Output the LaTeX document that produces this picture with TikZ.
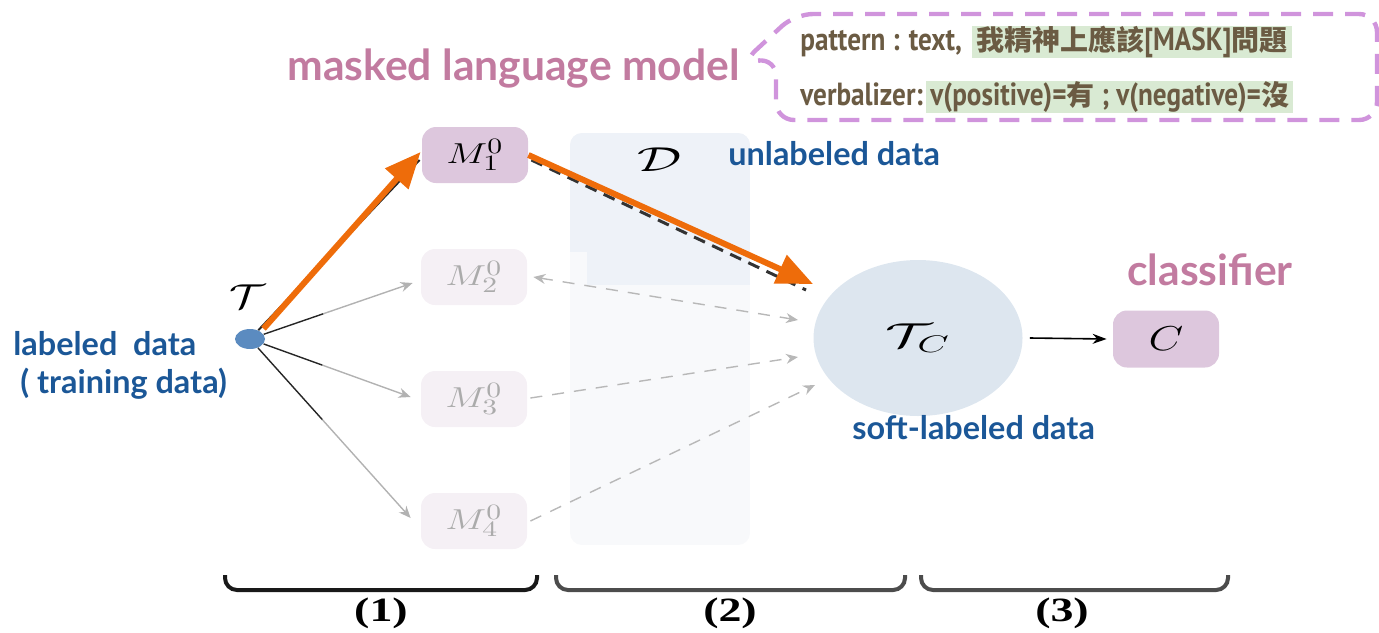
\documentclass[tikz,border=0pt]{standalone}
\usepackage[no-math]{fontspec}
\usepackage{graphicx}
\setmainfont{Lato}
\newfontfamily\lato{Lato}
\newfontfamily\condf[FakeStretch=0.85]{PT Sans}
\newfontfamily\cjk{Noto Sans CJK TC}
\newfontfamily\tnr{Liberation Serif}
\usetikzlibrary{arrows.meta,calc,shapes.geometric}
\definecolor{pinkt}{HTML}{C27BA0}
\definecolor{bluet}{HTML}{1B5797}
\definecolor{olive}{HTML}{6B5B43}
\definecolor{hlg}{HTML}{D9EAD3}
\definecolor{dashp}{HTML}{D094DC}
\definecolor{mfill}{HTML}{DDC7DD}
\definecolor{mfade}{HTML}{F5F0F5}
\definecolor{orng}{HTML}{EE6C0A}
\definecolor{dtop}{HTML}{EEF2F8}
\definecolor{dbot}{HTML}{F8F9FB}
\definecolor{tcfill}{HTML}{DDE6EF}
\definecolor{dotc}{HTML}{5B8BC0}
\newcommand{\wide}[2]{\scalebox{#1}[1]{#2}}
\newcommand{\cjkb}[1]{{\cjk\bfseries\fontsize{14}{14}\selectfont #1}}
\tikzset{
  mbox/.style={rounded corners=7pt, minimum width=53pt, minimum height=28pt, fill=mfill, inner sep=0pt, font=\fontsize{15}{15}\selectfont},
  fade/.style={fill=mfade, text=black!33},
  pinklab/.style={text=pinkt, anchor=base west, inner sep=0pt, font=\lato\bfseries\fontsize{21.3}{21.3}\selectfont},
  bluelab/.style={text=bluet, anchor=base west, inner sep=0pt, font=\lato\bfseries\fontsize{16.2}{16.2}\selectfont},
  olivetxt/.style={text=olive, inner sep=0pt, font=\condf\bfseries\fontsize{16}{16}\selectfont},
  hl/.style={fill=hlg, text=olive, inner xsep=2pt, inner ysep=0pt, minimum height=16pt, font=\condf\bfseries\fontsize{16}{16}\selectfont},
  orarrow/.style={orng, line width=3pt, -{Triangle[length=18pt,width=15pt]}},
  grayarr/.style={black!30, line width=0.7pt, -{Stealth[length=6pt,width=5pt]}},
  darkseg/.style={black!85, line width=0.7pt},
  dasharr/.style={black!28, line width=0.7pt, dash pattern=on 6pt off 5pt, -{Stealth[length=6pt,width=5pt]}},
  brace/.style={line width=2pt, rounded corners=6pt},
  numlab/.style={font=\tnr\bfseries\fontsize{17}{17}\selectfont, inner sep=0pt}
}
\begin{document}
\begin{tikzpicture}[x=0.5pt,y=-0.5pt]
\useasboundingbox (0,0) rectangle (1379,632);
% D region
\begin{scope}
\clip[rounded corners=6pt] (570,133) rectangle (750,545);
\fill[dbot] (570,133) rectangle (750,545);
\fill[dtop] (570,133) rectangle (750,285);
\fill[dbot] (570,252) rectangle (587,285);
\end{scope}
\node (Dl) at (660,160) {\fontsize{17}{17}\selectfont\wide{1.6}{$\mathcal{D}$}};

% nodes
\node[mbox] (M1) at (475,155) {\wide{1.35}{$M_1^0$}};
\node[mbox,fade] (M2) at (474,277) {\wide{1.35}{$M_2^0$}};
\node[mbox,fade] (M3) at (474,399) {\wide{1.35}{$M_3^0$}};
\node[mbox,fade] (M4) at (474,521) {\wide{1.35}{$M_4^0$}};
\node[ellipse, fill=tcfill, minimum width=104.5pt, minimum height=78pt, inner sep=0pt, font=\fontsize{17}{17}\selectfont] (TC) at (918,338) {\wide{1.7}{$\mathcal{T}_C$}};
\node[mbox, minimum height=28.5pt, font=\fontsize{17}{17}\selectfont] (C) at (1166,339) {\wide{1.3}{$C$}};
\node[ellipse, fill=dotc, minimum width=15pt, minimum height=10pt, inner sep=0pt] (T) at (250,339) {};
\node (Tl) at (247,297) {\fontsize{17}{17}\selectfont\wide{1.3}{$\mathcal{T}$}};

% T -> M2..M4
\coordinate (a2) at ([xshift=-4pt,yshift=-3pt]M2.west);
\coordinate (a3) at ([xshift=-5pt,yshift=1pt]M3.west);
\coordinate (a4) at ([xshift=-5pt,yshift=1.5pt]M4.west);
\draw[grayarr] ($(T)!0.45!(a2)$) -- (a2);
\draw[darkseg] (T) -- ($(T)!0.45!(a2)$);
\draw[grayarr] ($(T)!0.45!(a3)$) -- (a3);
\draw[darkseg] (T) -- ($(T)!0.45!(a3)$);
\draw[grayarr] ($(T)!0.45!(a4)$) -- (a4);
\draw[darkseg] (T) -- ($(T)!0.45!(a4)$);

% dashed M_i -> TC
\draw[dasharr, {Stealth[length=6pt,width=5pt]}-{Stealth[length=6pt,width=5pt]}] ([xshift=3pt]M2.east) -- ([shift={(-120,-18)}]TC.center);
\draw[dasharr] ([xshift=1.5pt,yshift=0.5pt]M3.east) -- ([shift={(-120,19)}]TC.center);
\draw[dasharr] ([xshift=1.5pt]M4.east) -- ([shift={(-103,47)}]TC.center);

% T -> M1 and M1 -> TC
\draw[black!85, line width=1pt] (T) -- ([shift={(-2,5)}]M1.west);
\draw[orarrow, shorten <=2pt] (T.north east) -- ([shift={(-1,-3)}]M1.west);
\draw[black!80, line width=1.5pt, dash pattern=on 6pt off 4pt] ([shift={(3,5)}]M1.east) -- ([shift={(-112,-48)}]TC.center);
\draw[orarrow] (M1.east) -- ([shift={(-105,-54)}]TC.center);

% TC -> C
\draw[black, line width=0.8pt, -{Stealth[length=7pt,width=5pt]}] ([xshift=3.5pt]TC.east) -- ([xshift=-3pt]C.west);

% labels
\node[pinklab] (mlm) at (287,80) {masked language model};
\node[pinklab] (cls) at (1127,285) {classifier};
\node[bluelab] (unl) at (728,165) {unlabeled data};
\node[bluelab] (soft) at (852,439) {soft-labeled data};
\node[bluelab] (lab) at (13,355) {labeled\ \ data};
\node[bluelab] (train) at (20,393) {( training data)};

% callout
\draw[dashp, line width=2.2pt, dash pattern=on 10pt off 6pt, rounded corners=9pt] (742,63) -- (776,58) -- (776,120) -- (1377,120) -- (1377,14) -- (795,14) -- cycle;
\node[olivetxt, anchor=base west] (pat) at (800,50) {pattern : text,};
\node[hl, anchor=west] (hl1) at (972,42) {\cjkb{我精神上應該}[MASK]\cjkb{問題}};
\node[olivetxt, anchor=base west] (verb) at (800,105) {verbalizer:};
\node[hl, anchor=west] (hl2) at (926,97) {v(positive)=\cjkb{有} ; v(negative)=\cjkb{沒}};

% braces
\draw[brace, black!90] (225,575) -- (225,590) -- (537,590) -- (537,575);
\draw[brace, black!70] (556,575) -- (556,590) -- (905,590) -- (905,575);
\draw[brace, black!70] (921,575) -- (921,590) -- (1228,590) -- (1228,575);
\node[numlab] (n1) at (381,613) {\wide{1.35}{(1)}};
\node[numlab] (n2) at (730,613) {\wide{1.35}{(2)}};
\node[numlab] (n3) at (1062,613) {\wide{1.35}{(3)}};
\end{tikzpicture}
\end{document}
